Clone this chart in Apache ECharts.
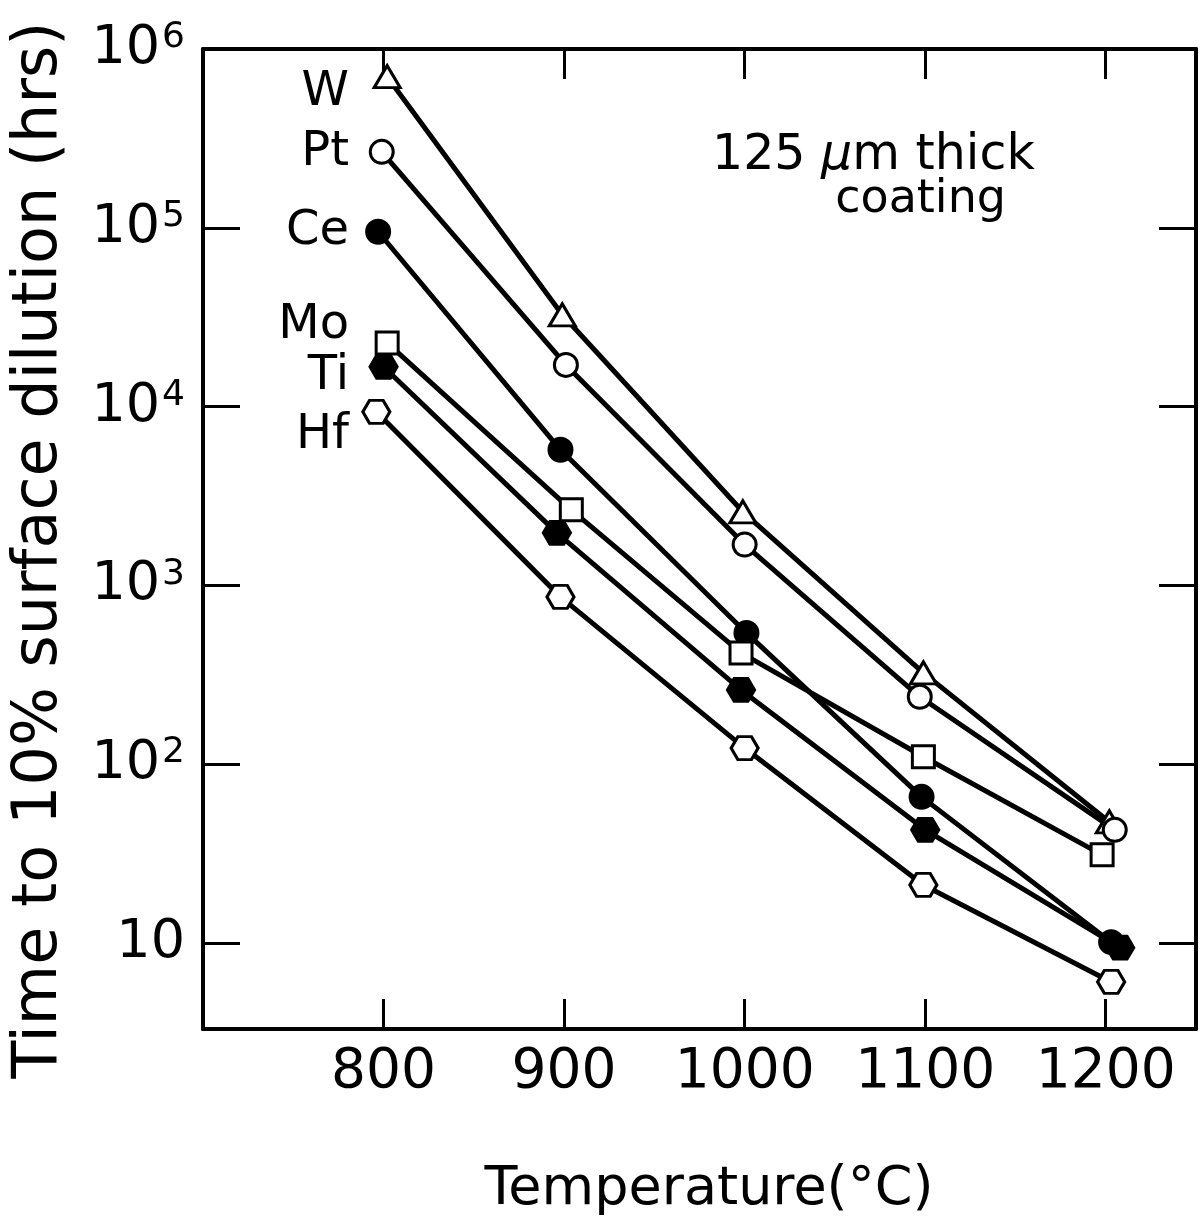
<!DOCTYPE html>
<html>
<head>
<meta charset="utf-8">
<script src="https://cdn.jsdelivr.net/npm/echarts@6/dist/echarts.min.js"></script>
<style>
html,body{margin:0;padding:0;background:#fff;}
#chart{width:1201px;height:1230px;}
</style>
</head>
<body>
<div id="chart"></div>
<script>
// ---- data ----
const seriesNames = ['W', 'Pt', 'Ce', 'Mo', 'Ti', 'Hf'];
const tempW  = [802, 899, 999, 1099, 1202];
const hoursW = [7.0e5, 3.26e4, 2580, 324, 47.5];
const tempPt  = [799, 901, 1000, 1097, 1205];
const hoursPt = [2.66e5, 1.71e4, 1690, 238, 42.9];
const tempCe  = [797, 898, 1001, 1098, 1203];
const hoursCe = [9.5e4, 5730, 542, 65.6, 10.1];
const tempMo  = [802, 904, 998, 1099, 1198];
const hoursMo = [2.27e4, 2645, 419, 110, 31.1];
const tempTi  = [800, 896, 998, 1100, 1208];
const hoursTi = [1.67e4, 1966, 260, 42.9, 9.4];
const tempHf  = [796, 898, 1000, 1099, 1203];
const hoursHf = [9350, 862, 123, 21.1, 6.05];
const xTickLabels = ['800', '900', '1000', '1100', '1200'];
const yTickExponents = [1, 2, 3, 4, 5, 6];

const FONT = '"DejaVu Sans", "Liberation Sans", sans-serif';
const hexagon = 'path://M0,1 L0.5,0.134 L1.5,0.134 L2,1 L1.5,1.866 L0.5,1.866 Z';

function pairs(t, h) { return t.map((x, i) => [x, h[i]]); }

const styles = {
  W:  { symbol: 'triangle', size: [26, 22], fill: '#fff' },
  Pt: { symbol: 'circle', size: 23, fill: '#fff' },
  Ce: { symbol: 'circle', size: 23, fill: '#000' },
  Mo: { symbol: 'rect', size: 22, fill: '#fff' },
  Ti: { symbol: hexagon, size: [27, 23], fill: '#000' },
  Hf: { symbol: hexagon, size: [27, 23], fill: '#fff' }
};
const dataMap = {
  W: pairs(tempW, hoursW), Pt: pairs(tempPt, hoursPt), Ce: pairs(tempCe, hoursCe),
  Mo: pairs(tempMo, hoursMo), Ti: pairs(tempTi, hoursTi), Hf: pairs(tempHf, hoursHf)
};

const series = seriesNames.map(n => ({
  name: n, type: 'line', xAxisIndex: 0, yAxisIndex: 0,
  data: dataMap[n],
  symbol: styles[n].symbol, symbolSize: styles[n].size, showAllSymbol: true,
  lineStyle: { color: '#000', width: 5 },
  itemStyle: { color: styles[n].fill, borderColor: '#000', borderWidth: 3 },
  emphasis: { disabled: true }, silent: true, z: 3
}));

function yLabel(v) {
  const l = Math.log10(v);
  const e = Math.round(l);
  if (Math.abs(l - e) > 1e-6 || yTickExponents.indexOf(e) < 0) return '';
  if (e === 1) return '{b|10}';
  return '{b|10}{s|' + e + '}';
}
function xLabel(v) {
  const s = String(Math.round(v));
  return xTickLabels.indexOf(s) >= 0 ? s : '';
}

const labelY = { W: 93, Pt: 153, Ce: 232, Mo: 326, Ti: 377, Hf: 436 };

const chart = echarts.init(document.getElementById('chart'), null, { renderer: 'canvas' });
chart.setOption({
  backgroundColor: '#fff',
  animation: false,
  textStyle: { fontFamily: FONT, color: '#000' },
  grid: { left: 203, top: 49, right: 5, bottom: 201, containLabel: false },
  xAxis: [
    {
      type: 'value', min: 700, max: 1250, interval: 100, position: 'bottom',
      axisLine: { show: true, onZero: false, lineStyle: { color: '#000', width: 4 } },
      axisTick: { show: true, inside: true, length: 30, lineStyle: { color: '#000', width: 3 } },
      axisLabel: { formatter: xLabel, fontSize: 55, fontFamily: FONT, color: '#000', margin: 16 },
      splitLine: { show: false }
    },
    {
      type: 'value', min: 700, max: 1250, interval: 100, position: 'top',
      axisLine: { show: true, onZero: false, lineStyle: { color: '#000', width: 4 } },
      axisTick: { show: true, inside: true, length: 30, lineStyle: { color: '#000', width: 3 } },
      axisLabel: { show: false }, splitLine: { show: false }
    }
  ],
  yAxis: [
    {
      type: 'log', logBase: 10, min: 3.3, max: 1e6, position: 'left',
      axisLine: { show: true, onZero: false, lineStyle: { color: '#000', width: 4 } },
      axisTick: { show: true, inside: true, length: 37, lineStyle: { color: '#000', width: 3 } },
      axisLabel: {
        formatter: yLabel, margin: 18, color: '#000',
        rich: {
          b: { fontSize: 54, fontFamily: FONT, color: '#000' },
          s: { fontSize: 36, fontFamily: FONT, color: '#000', verticalAlign: 'top', padding: [0, 0, 22, 2] }
        }
      },
      splitLine: { show: false }, minorTick: { show: false }
    },
    {
      type: 'log', logBase: 10, min: 3.3, max: 1e6, position: 'right',
      axisLine: { show: true, onZero: false, lineStyle: { color: '#000', width: 4 } },
      axisTick: { show: true, inside: true, length: 37, lineStyle: { color: '#000', width: 3 } },
      axisLabel: { show: false }, splitLine: { show: false }
    }
  ],
  series: series,
  graphic: [
    ...seriesNames.map(n => ({
      type: 'text', x: 349, y: labelY[n], silent: true,
      style: { text: n, font: '48px ' + FONT, fill: '#000', textAlign: 'right', textVerticalAlign: 'middle' }
    })),
    {
      type: 'text', x: 712, y: 156, silent: true,
      style: {
        text: '{n|125 }{i|μ}{n|m thick}', textAlign: 'left', textVerticalAlign: 'middle',
        rich: {
          n: { fontSize: 49, fontFamily: FONT, fill: '#000' },
          i: { fontSize: 49, fontFamily: FONT, fontStyle: 'italic', fill: '#000' }
        }
      }
    },
    {
      type: 'text', x: 1006, y: 200, silent: true,
      style: { text: 'coating', font: '46px ' + FONT, fill: '#000', textAlign: 'right', textVerticalAlign: 'middle' }
    },
    {
      type: 'text', x: 40, y: 550, rotation: Math.PI / 2, silent: true,
      style: { text: 'Time to 10% surface dilution (hrs)', font: '62px ' + FONT, fill: '#000', textAlign: 'center', textVerticalAlign: 'middle' }
    },
    {
      type: 'text', x: 709, y: 1190, silent: true,
      style: { text: 'Temperature(°C)', font: '54px ' + FONT, fill: '#000', textAlign: 'center', textVerticalAlign: 'middle' }
    }
  ]
});
</script>
</body>
</html>
